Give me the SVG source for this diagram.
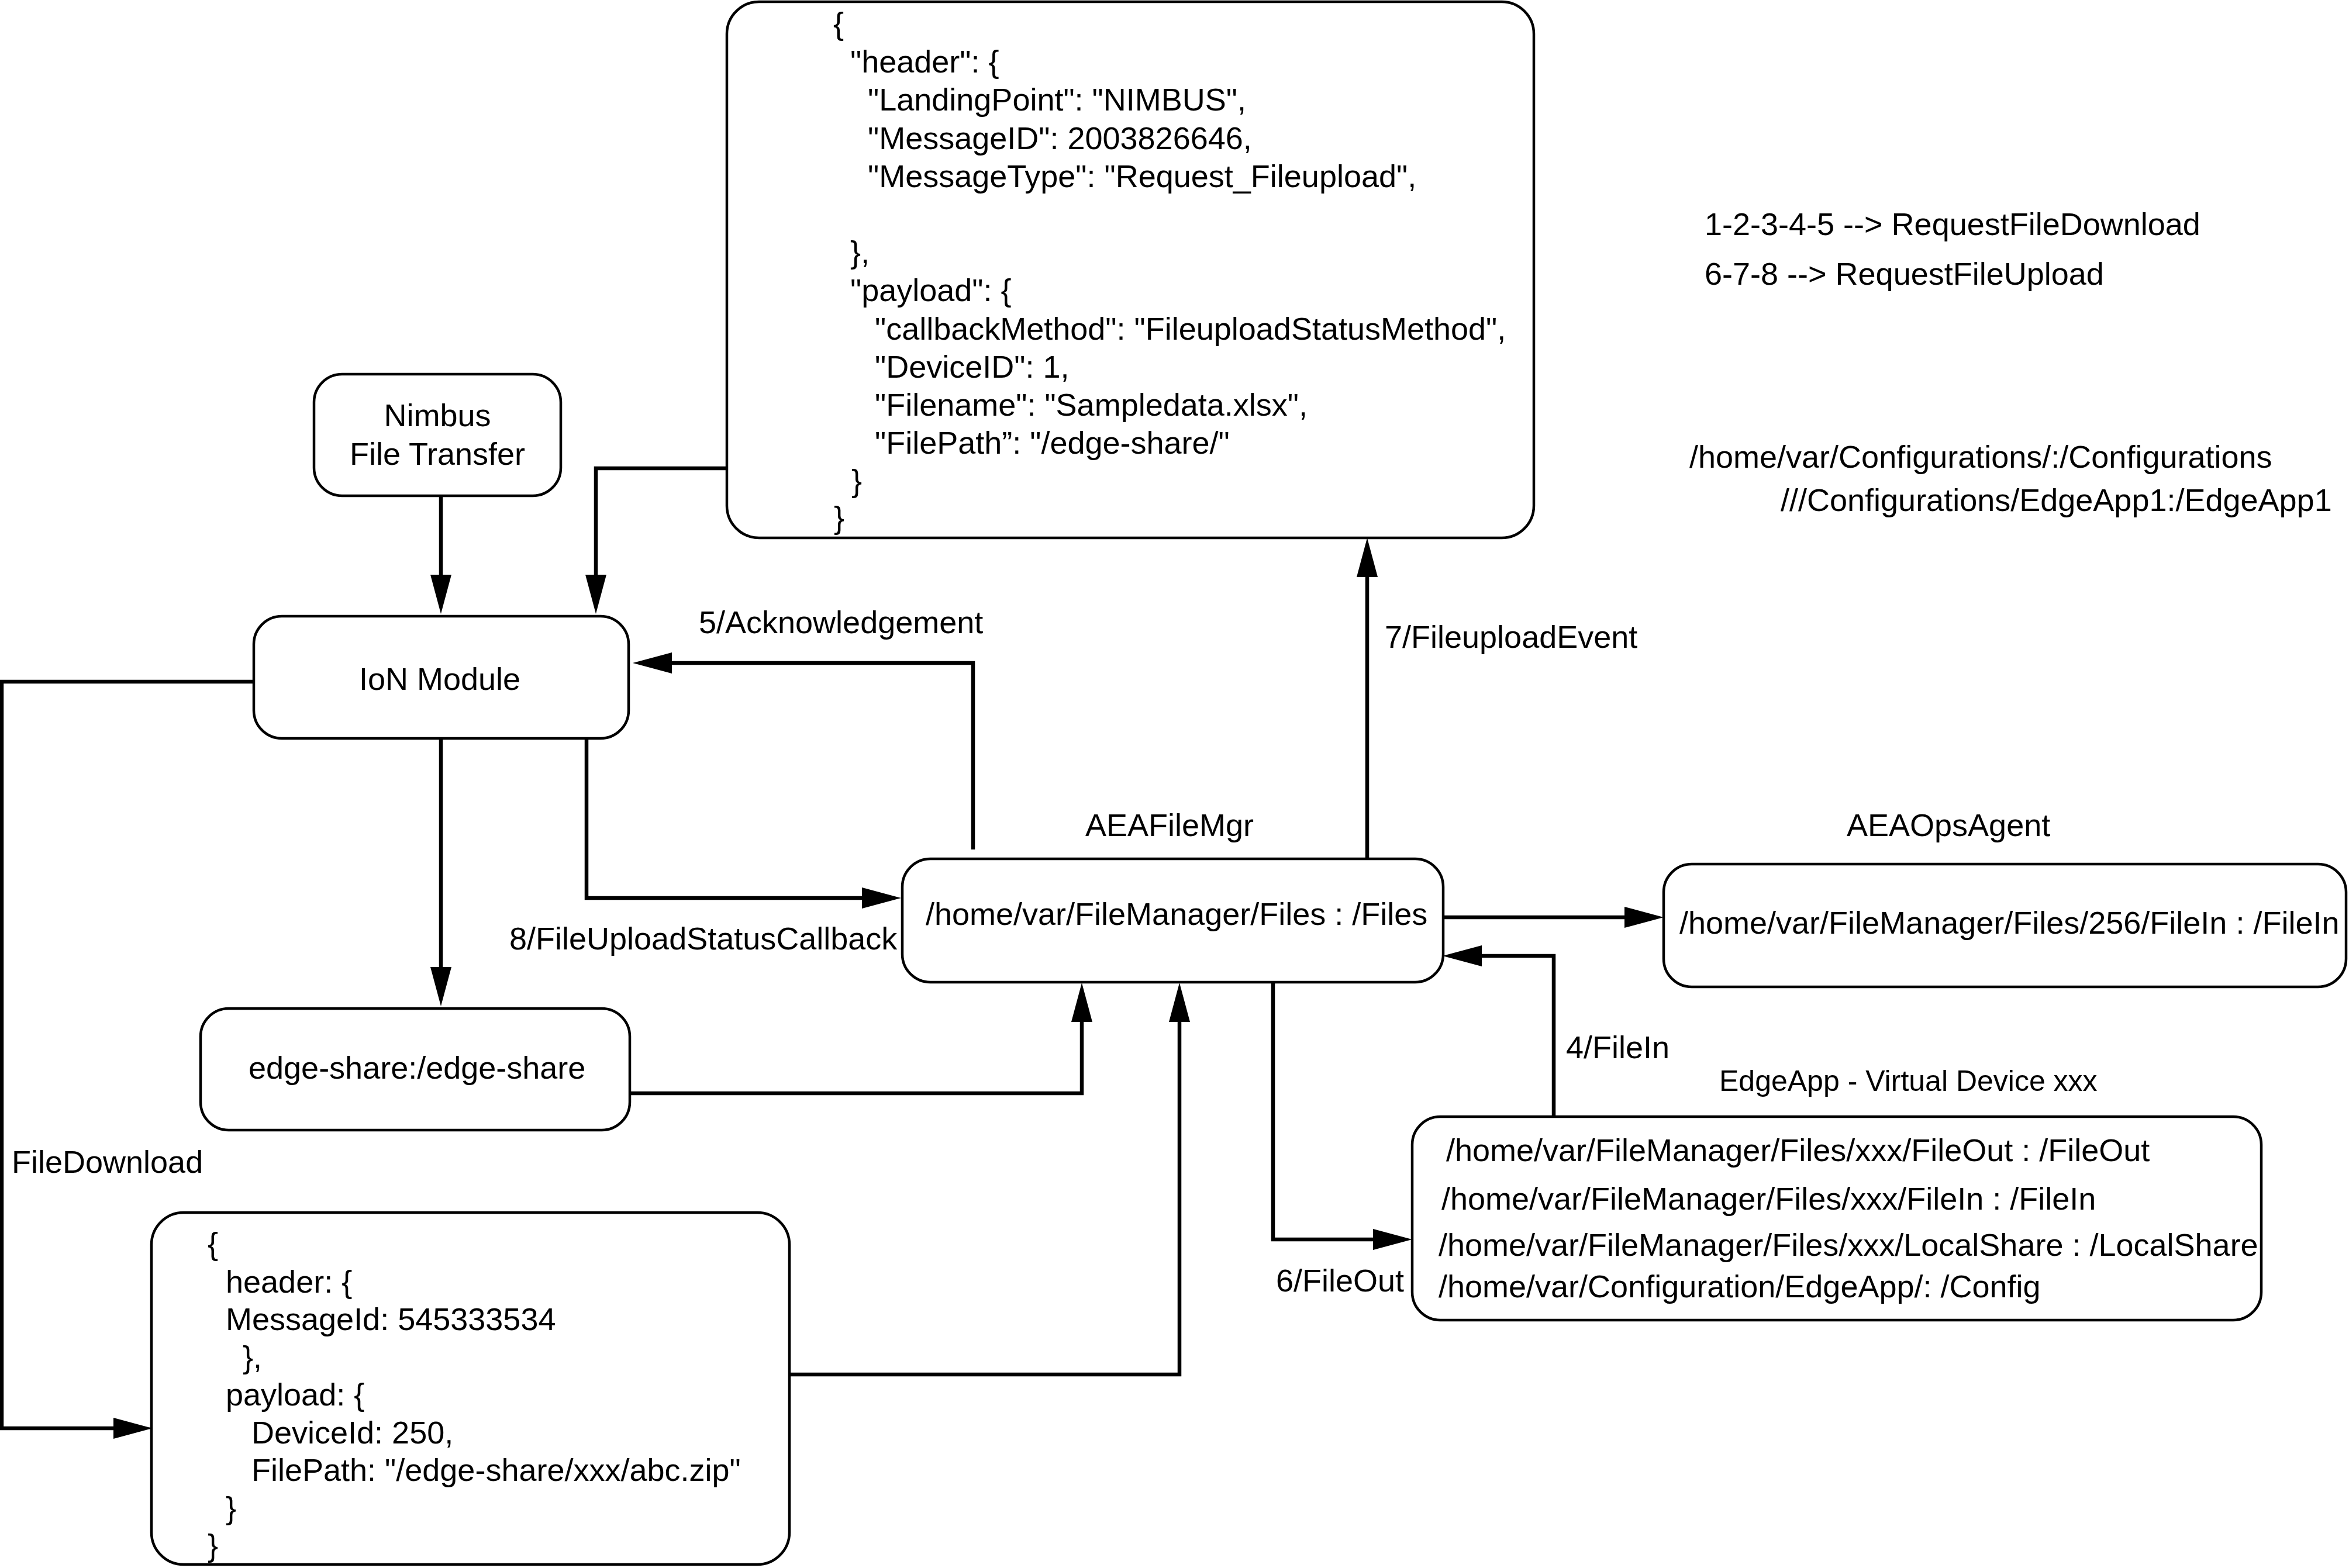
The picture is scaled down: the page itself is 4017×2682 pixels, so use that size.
<svg xmlns="http://www.w3.org/2000/svg" width="4017" height="2682" viewBox="0 0 4017 2682">
<style>
text{font-family:"Liberation Sans",Arial,Helvetica,sans-serif;font-size:54px;fill:#000}
.box{fill:#fff;stroke:#000;stroke-width:4.5}
.c{fill:none;stroke:#000;stroke-width:6.5;stroke-linejoin:miter}
.mid{text-anchor:middle}
.sm{font-size:50px}
</style>
<defs>
<marker id="ah" markerUnits="userSpaceOnUse" viewBox="0 0 67 36" markerWidth="67" markerHeight="36" refX="47" refY="18" orient="auto">
<path d="M0,0 L67,18 L0,36 Z" fill="#000"/>
</marker>
</defs>
<rect width="4017" height="2682" fill="#fff"/>

<g id="connectors">
<path class="c" d="M754,848 V1030" marker-end="url(#ah)"/>
<path class="c" d="M1243,801 H1019 V1030" marker-end="url(#ah)"/>
<path class="c" d="M1664,1453 V1134 H1102" marker-end="url(#ah)"/>
<path class="c" d="M1003,1250 V1536 H1521" marker-end="url(#ah)"/>
<path class="c" d="M754,1263 V1701" marker-end="url(#ah)"/>
<path class="c" d="M1077,1870 H1850 V1701" marker-end="url(#ah)"/>
<path class="c" d="M1350,2351 H2017 V1701" marker-end="url(#ah)"/>
<path class="c" d="M2338,1469 V940" marker-end="url(#ah)"/>
<path class="c" d="M2468,1569 H2825" marker-end="url(#ah)"/>
<path class="c" d="M2657,1910 V1635 H2487" marker-end="url(#ah)"/>
<path class="c" d="M2177,1681 V2120 H2395" marker-end="url(#ah)"/>
<path class="c" d="M434,1166 H3 V2443 H241" marker-end="url(#ah)"/>
<text x="1195" y="1083">5/Acknowledgement</text>
<text x="871" y="1624">8/FileUploadStatusCallback</text>
<text x="2368" y="1108">7/FileuploadEvent</text>
<text x="2678" y="1810">4/FileIn</text>
<text x="2182" y="2209">6/FileOut</text>
<text x="20" y="2006">FileDownload</text>
</g>

<g id="request-upload-json">
<rect class="box" x="1243" y="3" width="1380" height="917" rx="55" ry="55"/>
<text x="1425" y="59">{</text>
<text x="1454" y="124">"header": {</text>
<text x="1484" y="189">"LandingPoint": "NIMBUS",</text>
<text x="1484" y="255">"MessageID": 2003826646,</text>
<text x="1484" y="320">"MessageType": "Request_Fileupload",</text>
<text x="1454" y="450">},</text>
<text x="1454" y="515">"payload": {</text>
<text x="1496" y="581">"callbackMethod": "FileuploadStatusMethod",</text>
<text x="1496" y="646">"DeviceID": 1,</text>
<text x="1496" y="711">"Filename": "Sampledata.xlsx",</text>
<text x="1496" y="776">"FilePath”: "/edge-share/"</text>
<text x="1456" y="841">}</text>
<text x="1426" y="904">}</text>
</g>

<g id="legend">
<text x="2915" y="402">1-2-3-4-5 --&gt; RequestFileDownload</text>
<text x="2915" y="487">6-7-8 --&gt; RequestFileUpload</text>
<text x="2889" y="800">/home/var/Configurations/:/Configurations</text>
<text x="3045" y="874">///Configurations/EdgeApp1:/EdgeApp1</text>
</g>

<g id="nimbus">
<rect class="box" x="537" y="640" width="422" height="208" rx="48" ry="48"/>
<text class="mid" x="748" y="729">Nimbus</text>
<text class="mid" x="748" y="795">File Transfer</text>
</g>

<g id="ion-module">
<rect class="box" x="434" y="1054" width="641" height="209" rx="48" ry="48"/>
<text class="mid" x="752" y="1180">IoN Module</text>
</g>

<g id="edge-share">
<rect class="box" x="343" y="1725" width="734" height="208" rx="48" ry="48"/>
<text x="425" y="1845">edge-share:/edge-share</text>
</g>

<g id="aeafilemgr">
<text x="1856" y="1430">AEAFileMgr</text>
<rect class="box" x="1543" y="1469" width="925" height="211" rx="48" ry="48"/>
<text x="1583" y="1582">/home/var/FileManager/Files : /Files</text>
</g>

<g id="aeaopsagent">
<text x="3158" y="1430">AEAOpsAgent</text>
<rect class="box" x="2845" y="1478" width="1167" height="210" rx="48" ry="48"/>
<text x="2872" y="1597">/home/var/FileManager/Files/256/FileIn : /FileIn</text>
</g>

<g id="edgeapp">
<text class="sm" x="2940" y="1866">EdgeApp - Virtual Device xxx</text>
<rect class="box" x="2415" y="1910" width="1452" height="348" rx="48" ry="48"/>
<text x="2473" y="1986">/home/var/FileManager/Files/xxx/FileOut : /FileOut</text>
<text x="2465" y="2069">/home/var/FileManager/Files/xxx/FileIn : /FileIn</text>
<text x="2460" y="2148">/home/var/FileManager/Files/xxx/LocalShare : /LocalShare</text>
<text x="2460" y="2219">/home/var/Configuration/EdgeApp/: /Config</text>
</g>

<g id="download-json">
<rect class="box" x="259" y="2074" width="1091" height="602" rx="55" ry="55"/>
<text x="355" y="2146">{</text>
<text x="386" y="2211">header: {</text>
<text x="386" y="2275">MessageId: 545333534</text>
<text x="415" y="2340">},</text>
<text x="386" y="2404">payload: {</text>
<text x="430" y="2469">DeviceId: 250,</text>
<text x="430" y="2533">FilePath: "/edge-share/xxx/abc.zip"</text>
<text x="386" y="2598">}</text>
<text x="355" y="2662">}</text>
</g>
</svg>
